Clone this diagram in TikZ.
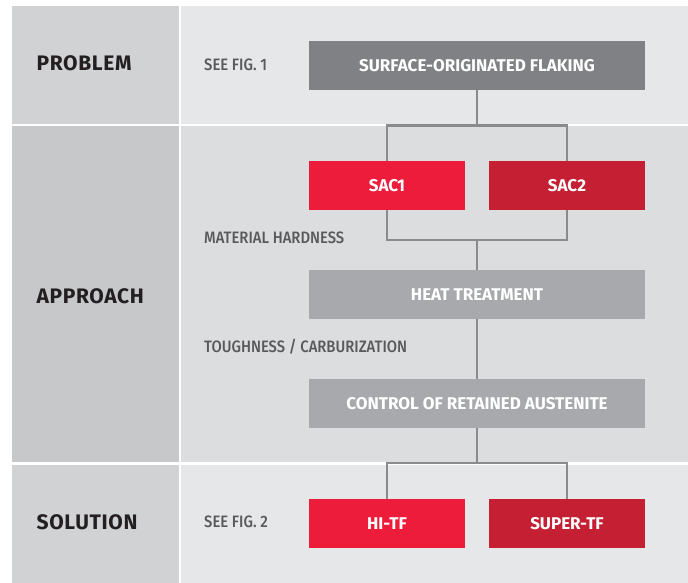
\documentclass[tikz,border=0pt]{standalone}
\usepackage{fontspec}
\setmainfont{Fira Sans}
\newfontfamily\sidefont{Fira Sans Medium}[FakeStretch=0.9]
\definecolor{headcell}{HTML}{D1D2D4}
\definecolor{headcellmid}{HTML}{C7C8CA}
\definecolor{panelcell}{HTML}{E6E7E8}
\definecolor{panelcellmid}{HTML}{DCDDDE}
\definecolor{boxdark}{HTML}{808184}
\definecolor{boxlight}{HTML}{A7A9AC}
\definecolor{boxred}{HTML}{ED1C3B}
\definecolor{boxcrimson}{HTML}{C41F32}
\definecolor{wire}{HTML}{8A8B8D}
\definecolor{labeltext}{HTML}{58595B}
\definecolor{headtext}{HTML}{231F20}

\begin{document}
\begin{tikzpicture}[x=1pt,y=-1pt,
  every node/.style={inner sep=0pt},
  rowlabel/.style={anchor=west,text=headtext,font=\fontsize{21}{23}\selectfont\bfseries\addfontfeatures{LetterSpace=3},text height=14.3pt,text depth=0pt},
  sidelabel/.style={anchor=west,text=labeltext,font=\sidefont\fontsize{16.5}{18}\selectfont,text height=11.5pt,text depth=0pt},
  stepbox/.style={text=white,font=\fontsize{17}{19}\selectfont\bfseries,text height=11.7pt,text depth=0pt,minimum height=48.7pt},
  widebox/.style={stepbox,minimum width=336pt},
  halfbox/.style={stepbox,minimum width=156pt},
  link/.style={draw=wire,line width=2.6pt}]
\useasboundingbox (0,0) rectangle (688,583);
\fill [headcell] (12,6) rectangle (179,124);
\fill [headcellmid] (12,126.5) rectangle (179,462);
\fill [headcell] (12,464.7) rectangle (179,583);
\fill [panelcell] (181.3,6) rectangle (688,124);
\fill [panelcellmid] (181.3,126.5) rectangle (688,462);
\fill [panelcell] (181.3,464.7) rectangle (688,583);
\node [rowlabel] (problem) at (36.5,63.7) {PROBLEM};
\node [rowlabel] (approach) at (36.5,296.7) {APPROACH};
\node [rowlabel] (solution) at (36.5,522.7) {SOLUTION};
\node [sidelabel] (fig1) at (204,65) {SEE FIG. 1};
\node [sidelabel] (hardness) at (204,237.7) {MATERIAL HARDNESS};
\node [sidelabel] (toughness) at (204,346.7) {TOUGHNESS / CARBURIZATION};
\node [sidelabel] (fig2) at (204,521.7) {SEE FIG. 2};
\node [widebox,fill=boxdark] (flaking) at (477,65.5) {SURFACE-ORIGINATED FLAKING};
\node [halfbox,fill=boxred] (sac1) at (387,185.3) {SAC1};
\node [halfbox,fill=boxcrimson] (sac2) at (567,185.3) {SAC2};
\node [widebox,fill=boxlight] (heat) at (477,294.3) {HEAT TREATMENT};
\node [widebox,fill=boxlight] (austenite) at (477,403.3) {CONTROL OF RETAINED AUSTENITE};
\node [halfbox,fill=boxred] (hitf) at (387,523.3) {HI-TF};
\node [halfbox,fill=boxcrimson] (supertf) at (567,523.3) {SUPER-TF};
\coordinate (forkA) at (477,125.3);
\coordinate (joinA) at (477,240);
\coordinate (forkB) at (477,463);
\draw [link] (flaking.south) -- (forkA);
\draw [link] (sac1.north) |- (forkA) -| (sac2.north);
\draw [link] (sac1.south) |- (joinA) -| (sac2.south);
\draw [link] (joinA) -- (heat.north);
\draw [link] (heat.south) -- (austenite.north);
\draw [link] (austenite.south) -- (forkB);
\draw [link] (hitf.north) |- (forkB) -| (supertf.north);
\end{tikzpicture}
\end{document}
